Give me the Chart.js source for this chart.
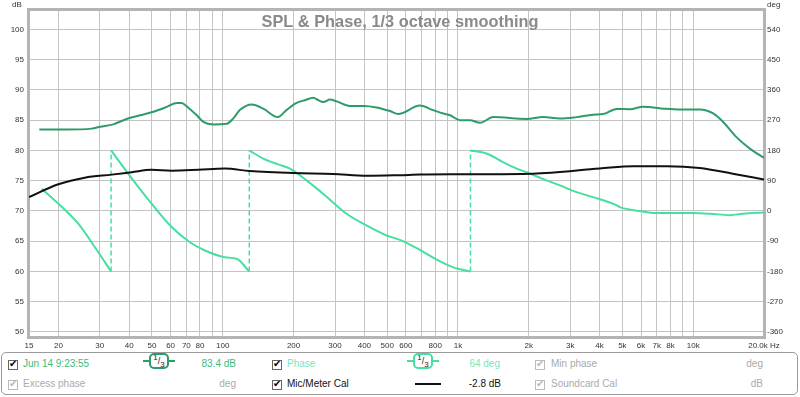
<!DOCTYPE html>
<html>
<head>
<meta charset="utf-8">
<script src="https://cdn.jsdelivr.net/npm/chart.js@4.4.1/dist/chart.umd.min.js"></script>
<style>
  body { margin: 0; background: #fff; font-family: "Liberation Sans", Arial, sans-serif; }
  #wrap { position: relative; width: 800px; height: 397px; overflow: hidden; }
  #chartBox { position: absolute; left: 0; top: 0; width: 800px; height: 352px; }
  #legend { position: absolute; left: 1px; top: 352px; width: 795px; height: 41px; border: 1px solid #9a9a9a; border-radius: 5px; }
  .t { position: absolute; font-size: 10px; line-height: 12px; white-space: nowrap; }
  .cb { position: absolute; width: 10px; height: 10px; border: 1px solid #666; box-sizing: border-box; background: #fff; }
  .cb::after { content: "\2714"; position: absolute; left: 0px; top: -3px; font: bold 10px "DejaVu Sans", sans-serif; color: #000; }
  .cb.off { border-color: #bbb; }
  .cb.off::after { color: #b8b8b8; }
  .sm { position: absolute; width: 32px; height: 16px; }
  .sm .ln { position: absolute; left: 0; right: 0; top: 7px; height: 2px; }
  .sm .bx { position: absolute; left: 6px; top: 0; width: 20px; height: 16px; box-sizing: border-box; border: 2px solid; border-radius: 5px; background: #fff; font-size: 9px; line-height: 12px; text-align: center; color: #222; }
  .sm sup, .sm sub { font-size: 8px; line-height: 0; }
</style>
</head>
<body>
<div id="wrap">
  <div id="chartBox"><canvas id="splChart"></canvas></div>
  <div id="legend"></div>

  <span class="cb" style="left:8px;top:360px"></span>
  <span class="t" style="left:23px;top:358px;color:#3dbb80">Jun 14 9:23:55</span>
  <div class="sm" style="left:143px;top:353px"><div class="ln" style="background:#2f9a6a"></div><div class="bx" style="border-color:#2f9a6a"><sup>1</sup>/<sub>3</sub></div></div>
  <span class="t" style="right:564px;top:358px;color:#3dbb80">83.4 dB</span>
  <span class="cb" style="left:272px;top:360px"></span>
  <span class="t" style="left:287px;top:358px;color:#7fe3b5">Phase</span>
  <div class="sm" style="left:407px;top:353px"><div class="ln" style="background:#45e0a0"></div><div class="bx" style="border-color:#45e0a0"><sup>1</sup>/<sub>3</sub></div></div>
  <span class="t" style="right:300px;top:358px;color:#7fe3b5">64 deg</span>
  <span class="cb off" style="left:535px;top:360px"></span>
  <span class="t" style="left:551px;top:358px;color:#aaa">Min phase</span>
  <span class="t" style="right:37px;top:358px;color:#aaa">deg</span>

  <span class="cb off" style="left:8px;top:380px"></span>
  <span class="t" style="left:23px;top:378px;color:#aaa">Excess phase</span>
  <span class="t" style="right:564px;top:378px;color:#aaa">deg</span>
  <span class="cb" style="left:272px;top:380px"></span>
  <span class="t" style="left:287px;top:378px;color:#111">Mic/Meter Cal</span>
  <div style="position:absolute;left:415px;top:383px;width:26px;height:2px;background:#111"></div>
  <span class="t" style="right:299px;top:378px;color:#111">-2.8 dB</span>
  <span class="cb off" style="left:535px;top:380px"></span>
  <span class="t" style="left:551px;top:378px;color:#aaa">Soundcard Cal</span>
  <span class="t" style="right:37px;top:378px;color:#aaa">dB</span>
</div>

<script>
// Axis ticks
const xGrid = [15, 20, 30, 40, 50, 60, 70, 80, 90, 100, 200, 300, 400, 500, 600, 700, 800, 900,
  1000, 2000, 3000, 4000, 5000, 6000, 7000, 8000, 9000, 10000, 20000];
const xLabels = {
  15: "15", 20: "20", 30: "30", 40: "40", 50: "50", 60: "60", 70: "70", 80: "80", 100: "100",
  200: "200", 300: "300", 400: "400", 500: "500", 600: "600", 800: "800", 1000: "1k",
  2000: "2k", 3000: "3k", 4000: "4k", 5000: "5k", 6000: "6k", 7000: "7k", 8000: "8k",
  10000: "10k", 20000: "20.0k Hz"
};
const dbTicks = [50, 55, 60, 65, 70, 75, 80, 85, 90, 95, 100];
const degTicks = [-360, -270, -180, -90, 0, 90, 180, 270, 360, 450, 540];

// SPL (dB)
const splFreq = [16.6, 21.7, 27.7, 30.1, 34.2, 39, 44.5, 50.7, 57.8, 63.7, 66.9, 69.1, 77.5, 82.7,
  90.9, 103.9, 110.9, 118.4, 132.8, 148.7, 171.2, 187, 206, 223.7, 242.7, 254.7, 267.6, 285.7,
  305, 347, 395.7, 451, 514, 557, 689, 785, 866, 925, 1020, 1125, 1240, 1413, 1956, 2302, 2710,
  3192, 3753, 4140, 4719, 5370, 6120, 7449, 8772, 10665, 12159, 13407, 15271, 17412, 20000];
const splDb = [83.45, 83.45, 83.6, 83.9, 84.3, 85.2, 85.8, 86.4, 87.2, 87.85, 87.85, 87.5, 85.8, 84.7,
  84.3, 84.4, 85.3, 86.7, 87.6, 86.9, 85.5, 86.7, 87.85, 88.3, 88.7, 88.3, 88.0, 88.4,
  88.1, 87.35, 87.35, 87.1, 86.5, 86.0, 87.4, 86.65, 86.1, 85.8, 85.0, 85.0, 84.55, 85.5, 85.2, 85.5, 85.26,
  85.5, 85.9, 86.0, 86.85, 86.8, 87.2, 86.9, 86.75, 86.75, 86.1, 84.7, 82.2, 80.3, 78.75];

// Mic/Meter Cal (dB)
const calFreq = [15, 20, 25.9, 33.7, 41, 49.8, 60.6, 78.7, 102, 130, 200, 294, 410, 566, 689,
  1000, 2080, 4010, 5540, 7730, 10665, 14730, 20000];
const calDb = [72.3, 74.4, 75.5, 76.0, 76.4, 76.8, 76.65, 76.8, 77.0, 76.6, 76.25, 76.1, 75.8, 75.9, 76.0,
  76.05, 76.15, 77.0, 77.4, 77.4, 77.1, 76.15, 75.2];

// Phase (deg), wrapped at +/-180: a repeated frequency marks a wrap
const phaseFreq = [17, 20, 24.3, 28.6, 33.5, 33.5, 39.6, 49.8, 60.6, 72.5, 84, 102, 115, 129.6,
  129.6, 148.6, 172, 193, 227, 267, 336, 408, 497, 566, 689, 798, 955, 1130,
  1130, 1323, 1509, 1776, 2022, 2380, 2710, 3192, 3753, 4641, 4875, 5930, 6982, 8212, 9984, 11760, 14300, 16290, 20000];
const phaseDeg = [66, 21.5, -38, -108, -180, 180, 111, 21.5, -48, -93, -117.7, -137.6, -143, -180,
  180, 155.6, 138.6, 125.8, 90.9, 51.3, -8.3, -43.2, -73, -86, -116, -142, -168, -180,
  180, 171, 150, 126, 111, 91, 76, 56, 41, 19.4, 11.4, -0.5, -6.5, -6.5, -6.5, -8.3, -12.5, -8.3, -4.5];

const dbMin = 49.17, dbMax = 103.2;
const degOf = (db) => (db - 70) * 18;

// split phase into wrapped segments and the dashed wrap jumps
const phaseSegments = [];
const wrapPts = [];
let seg = [];
phaseFreq.forEach((f, i) => {
  if (i > 0 && f === phaseFreq[i - 1]) {
    phaseSegments.push(seg);
    seg = [];
    wrapPts.push({ x: f, y: phaseDeg[i - 1] }, { x: f, y: phaseDeg[i] }, { x: f, y: null });
  }
  seg.push({ x: f, y: phaseDeg[i] });
});
phaseSegments.push(seg);

const SPL_COLOR = "#2f9a6a";
const PHASE_COLOR = "#45e0a0";

const datasets = [
  {
    data: splFreq.map((f, i) => ({ x: f, y: splDb[i] })),
    borderColor: SPL_COLOR, borderWidth: 2, pointRadius: 0,
    cubicInterpolationMode: "monotone", yAxisID: "y"
  },
  {
    data: calFreq.map((f, i) => ({ x: f, y: calDb[i] })),
    borderColor: "#111", borderWidth: 2, pointRadius: 0,
    cubicInterpolationMode: "monotone", yAxisID: "y"
  }
];
phaseSegments.forEach((s) => {
  datasets.push({
    data: s, borderColor: PHASE_COLOR, borderWidth: 2, pointRadius: 0,
    cubicInterpolationMode: "monotone", yAxisID: "y2"
  });
});
datasets.push({
  data: wrapPts, borderColor: PHASE_COLOR, borderWidth: 1.5, borderDash: [5, 3],
  pointRadius: 0, spanGaps: false, yAxisID: "y2"
});

// frame, title and unit labels
const decorPlugin = {
  id: "decor",
  beforeDatasetsDraw(chart) {
    const { ctx, chartArea: a } = chart;
    ctx.save();
    ctx.strokeStyle = "#b4b4b4";
    ctx.lineWidth = 3;
    ctx.strokeRect(a.left - 0.5, a.top - 0.5, a.right - a.left + 1, a.bottom - a.top + 1);
    ctx.restore();
  },
  afterDraw(chart) {
    const { ctx, chartArea: a } = chart;
    ctx.save();
    ctx.fillStyle = "#8a8a8a";
    ctx.font = "bold 17px 'Liberation Sans', Arial, sans-serif";
    ctx.textAlign = "center";
    ctx.textBaseline = "alphabetic";
    ctx.fillText("SPL & Phase, 1/3 octave smoothing", 400, 27, 277);
    ctx.fillStyle = "#333";
    ctx.font = "8px 'Liberation Sans', Arial, sans-serif";
    ctx.textBaseline = "top";
    ctx.textAlign = "left";
    ctx.fillText("dB", 12, 1);
    ctx.fillText("deg", a.right + 3, 1);
    ctx.restore();
  }
};

const tickFont = { family: "'Liberation Sans', Arial, sans-serif", size: 8 };

new Chart(document.getElementById("splChart"), {
  type: "line",
  data: { datasets },
  plugins: [decorPlugin],
  options: {
    responsive: true,
    maintainAspectRatio: false,
    animation: false,
    layout: { padding: { top: 10, left: 0, right: 0, bottom: 0 } },
    plugins: { legend: { display: false }, tooltip: { enabled: false }, title: { display: false } },
    scales: {
      x: {
        type: "logarithmic", position: "bottom", min: 15, max: 20000,
        afterBuildTicks: (s) => { s.ticks = xGrid.map((v) => ({ value: v })); },
        afterFit: (s) => { s.height = 15; },
        ticks: {
          autoSkip: false, maxRotation: 0, padding: 4, color: "#333", font: tickFont,
          callback: (v) => xLabels[v] || ""
        },
        grid: { color: "#c4c4c4", drawTicks: false },
        border: { display: false }
      },
      y: {
        position: "left", min: dbMin, max: dbMax,
        afterBuildTicks: (s) => { s.ticks = dbTicks.map((v) => ({ value: v })); },
        afterFit: (s) => { s.width = 29; },
        ticks: { padding: 5, color: "#333", font: tickFont },
        grid: { color: "#c4c4c4", drawTicks: false },
        border: { display: false }
      },
      y2: {
        position: "right", min: degOf(dbMin), max: degOf(dbMax),
        afterBuildTicks: (s) => { s.ticks = degTicks.map((v) => ({ value: v })); },
        afterFit: (s) => { s.width = 36; },
        ticks: { padding: 3, color: "#333", font: tickFont },
        grid: { display: false, drawTicks: false },
        border: { display: false }
      }
    }
  }
});
</script>
</body>
</html>
